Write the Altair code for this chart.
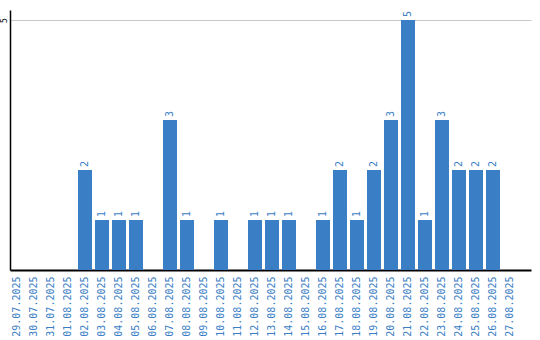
import altair as alt
import pandas as pd

dates = ["29.07.2025", "30.07.2025", "31.07.2025", "01.08.2025", "02.08.2025",
         "03.08.2025", "04.08.2025", "05.08.2025", "06.08.2025", "07.08.2025",
         "08.08.2025", "09.08.2025", "10.08.2025", "11.08.2025", "12.08.2025",
         "13.08.2025", "14.08.2025", "15.08.2025", "16.08.2025", "17.08.2025",
         "18.08.2025", "19.08.2025", "20.08.2025", "21.08.2025", "22.08.2025",
         "23.08.2025", "24.08.2025", "25.08.2025", "26.08.2025", "27.08.2025"]
counts = [0, 0, 0, 0, 2, 1, 1, 1, 0, 3, 1, 0, 1, 0, 1, 1, 1, 0, 1, 2,
          1, 2, 3, 5, 1, 3, 2, 2, 2, 0]

df = pd.DataFrame({"date": dates, "count": counts})

BLUE = "#3a7ec5"
FONT = "DejaVu Sans Mono"

x = alt.X("date:N", sort=dates, title=None,
          scale=alt.Scale(paddingInner=3/17, paddingOuter=0.412, align=0),
          axis=alt.Axis(labelAngle=270, labelAlign="right", labelBaseline="middle",
                        labelColor=BLUE, labelFont=FONT, labelFontSize=10,
                        labelPadding=6, ticks=False, domainColor="black",
                        domainWidth=2, grid=False))
y = alt.Y("count:Q", title=None,
          scale=alt.Scale(domain=[0, 5.2], nice=False),
          axis=alt.Axis(values=[5], labelAngle=270, labelAlign="center",
                        labelBaseline="middle", labelColor="black", labelFont=FONT,
                        labelFontSize=8, labelPadding=6, ticks=False,
                        domainColor="black", domainWidth=1.5,
                        grid=True, gridColor="#c8c8c8", gridWidth=1))

bars = alt.Chart(df).mark_bar(color=BLUE).encode(x=x, y=y)
labels = alt.Chart(df).transform_filter("datum.count > 0").mark_text(
    angle=270, align="left", baseline="middle", dx=3, color=BLUE,
    font=FONT, fontSize=10
).encode(x=alt.X("date:N", sort=dates), y="count:Q", text="count:Q")

chart = (bars + labels).properties(
    width=521, height=260, autosize="none",
    padding={"left": 10, "top": 10, "right": 9, "bottom": 70}
).configure_view(stroke=None)

chart.save("out.html", embed_options={"renderer": "svg", "actions": False})
